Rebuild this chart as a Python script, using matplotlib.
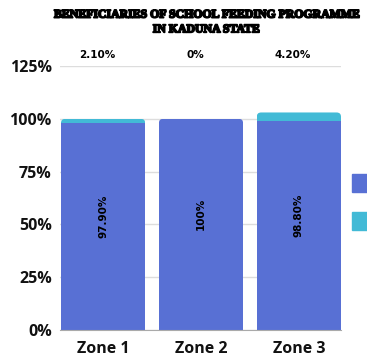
import matplotlib
matplotlib.use("Agg")
import matplotlib.pyplot as plt
import matplotlib.patheffects as pe
from matplotlib.patches import FancyBboxPatch, Rectangle

# data
zones = ["Zone 1", "Zone 2", "Zone 3"]
fed = [97.9, 100.0, 98.8]
not_fed = [2.1, 0.0, 4.2]
fed_labels = ["97.90%", "100%", "98.80%"]
not_fed_labels = ["2.10%", "0%", "4.20%"]

BLUE = "#5870D4"
CYAN = "#42BAD6"
W, H = 367, 356

fig = plt.figure(figsize=(W / 100, H / 100), dpi=100)
ax = fig.add_axes([60 / W, 1 - 330 / H, 281 / W, 264 / H])

x = list(range(len(zones)))
width = 0.86
b1 = ax.bar(x, fed, width, color=BLUE, zorder=2)
b2 = ax.bar(x, not_fed, width, bottom=fed, color=CYAN, zorder=2)

# round the top corners of each stacked column
for i in x:
    top = fed[i] + not_fed[i]
    clip = FancyBboxPatch((i - width / 2, -10), width, top + 10,
                          boxstyle="round,pad=0,rounding_size=0.045",
                          mutation_aspect=45, transform=ax.transData,
                          facecolor="none", edgecolor="none")
    ax.add_patch(clip)
    b1[i].set_clip_path(clip)
    b2[i].set_clip_path(clip)

    ax.text(i, fed[i] / 2 + 5, fed_labels[i], rotation=90, ha="center",
            va="center", fontsize=7.5, fontweight="bold", color="black",
            zorder=3)
    ax.text(i - 0.06, 130, not_fed_labels[i], ha="center", va="center",
            fontsize=7.5, fontweight="bold", color="black", clip_on=False)

ax.set_xlim(-0.44, 2.43)
ax.set_ylim(0, 125)
ax.set_yticks([0, 25, 50, 75, 100, 125])
ax.set_yticklabels([f"{v}%" for v in [0, 25, 50, 75, 100, 125]])
ax.set_xticks(x)
ax.set_xticklabels(zones)
ax.tick_params(length=0, pad=6)
ax.tick_params(axis="x", pad=8)
for lab in ax.get_yticklabels() + ax.get_xticklabels():
    lab.set_fontfamily("Open Sans")
    lab.set_fontweight("bold")
    lab.set_fontsize(11.5)
    lab.set_color("#111111")

ax.grid(axis="y", color="#dddddd", linewidth=1, zorder=0)
for s in ["top", "right", "left"]:
    ax.spines[s].set_visible(False)
ax.spines["bottom"].set_color("#aaaaaa")

fig.text(206 / W, 1 - 22 / H,
         "BENEFICIARIES OF SCHOOL FEEDING PROGRAMME\nIN KADUNA STATE",
         ha="center", va="center", fontsize=8.5, fontweight="bold",
         family="Liberation Serif", linespacing=1.3,
         path_effects=[pe.withStroke(linewidth=1.2, foreground="black")])

# legend swatches at the right edge
fig.add_artist(Rectangle((352 / W, 1 - 192 / H), 20 / W, 18 / H,
                         transform=fig.transFigure, color=BLUE))
fig.add_artist(Rectangle((352 / W, 1 - 230 / H), 20 / W, 18 / H,
                         transform=fig.transFigure, color=CYAN))

fig.savefig("out.png", dpi=100)
